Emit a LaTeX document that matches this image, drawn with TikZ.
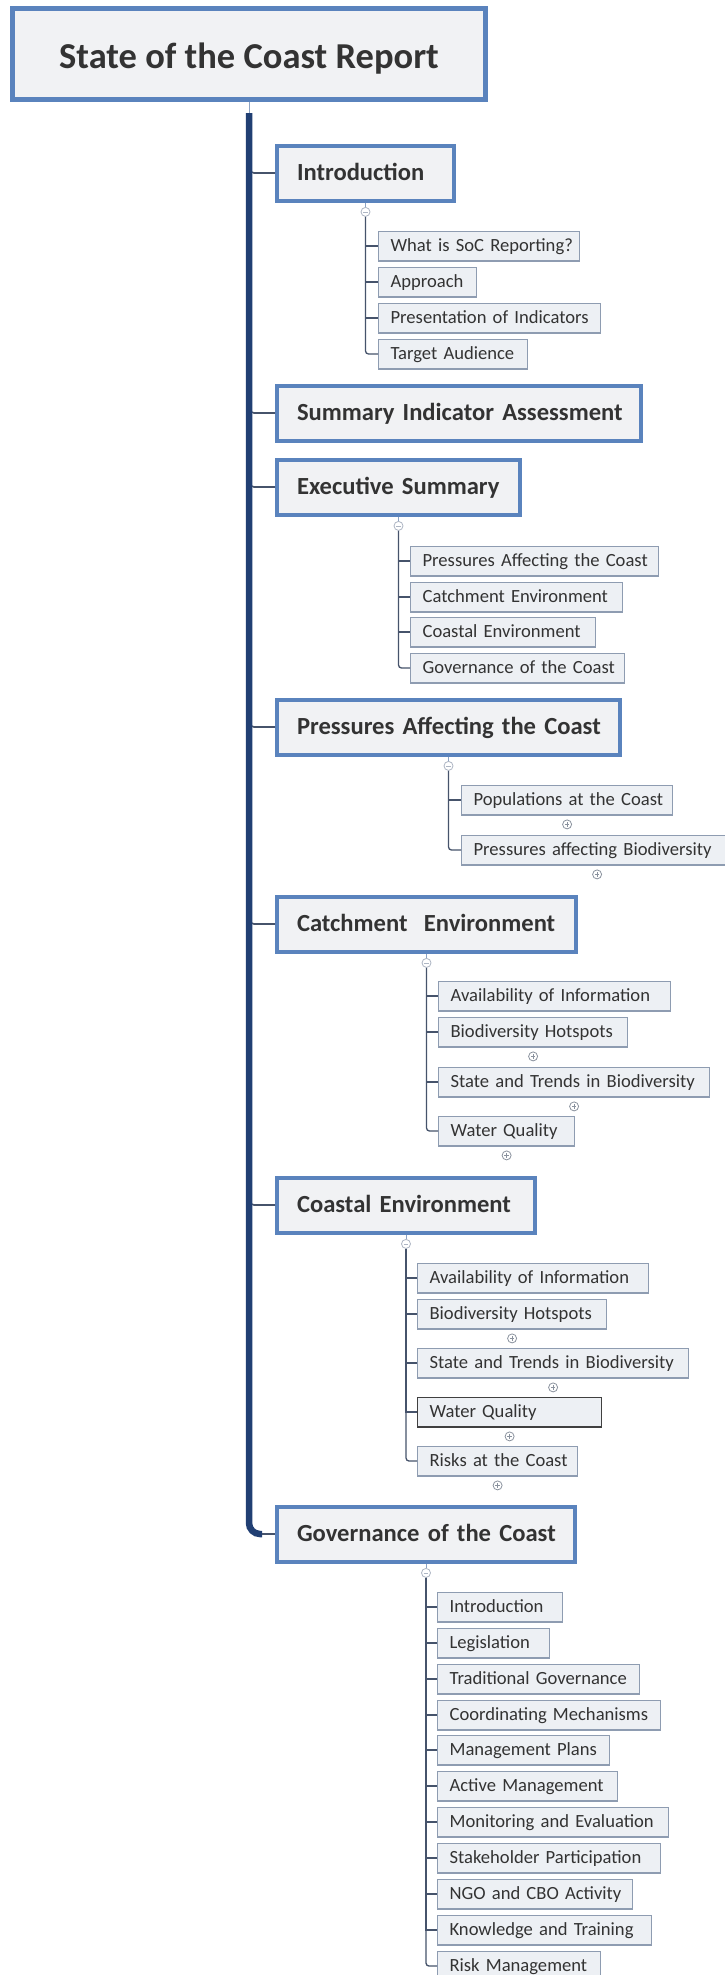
\documentclass[tikz,border=0pt]{standalone}
\usepackage{fontspec}
\setmainfont{Carlito}
\usetikzlibrary{positioning}

\definecolor{boxblue}{HTML}{5A83BD}
\definecolor{boxfill}{HTML}{F1F2F4}
\definecolor{leafline}{HTML}{8E9CB1}
\definecolor{leaffill}{HTML}{EDF0F4}
\definecolor{trunkblue}{HTML}{213F73}
\definecolor{twigline}{HTML}{46536B}
\definecolor{stemline}{HTML}{8DA3C4}
\definecolor{inkgray}{HTML}{333333}
\definecolor{knobgray}{HTML}{8A929E}
\definecolor{knoblight}{HTML}{AEB6C4}

\tikzset{
	title/.style={draw=boxblue, line width=5pt, fill=boxfill, text=inkgray,
		font=\fontsize{36.5}{42}\selectfont\bfseries, minimum width=473pt, minimum height=91pt,
		text height=29pt, text depth=0pt},
	topic/.style={draw=boxblue, line width=4pt, fill=boxfill, text=inkgray,
		font=\fontsize{24.6}{28}\selectfont\bfseries, anchor=west, inner xsep=20pt,
		minimum height=55pt, text width=#1, align=left, text height=15.5pt, text depth=0pt,
		execute at begin node={\hbox\bgroup}, execute at end node={\egroup}},
	leaf/.style={draw=leafline, line width=1.2pt, fill=leaffill, text=inkgray,
		font=\fontsize{18.6}{20}\selectfont, anchor=west, inner xsep=12pt,
		minimum height=29.8pt, text width=#1, align=left, text height=11.8pt, text depth=0pt,
		execute at begin node={\hbox\bgroup}, execute at end node={\egroup}},
	knob/.style={circle, draw=#1, fill=white, line width=0.8pt, minimum size=9pt, inner sep=0pt},
	minus/.style={knob=knoblight, path picture={\draw[knoblight, line width=0.8pt]
		([xshift=-2.3pt]path picture bounding box.center) -- ([xshift=2.3pt]path picture bounding box.center);}},
	plus/.style={knob=knobgray, path picture={\draw[knobgray, line width=0.8pt]
		([xshift=-2.3pt]path picture bounding box.center) -- ([xshift=2.3pt]path picture bounding box.center)
		([yshift=-2.3pt]path picture bounding box.center) -- ([yshift=2.3pt]path picture bounding box.center);}},
	stem/.style={draw=stemline, line width=1pt},
	trunk/.style={draw=trunkblue, line width=6.5pt, rounded corners=11pt},
	branch/.style={draw=twigline, line width=1.6pt, rounded corners=5pt},
	twig/.style={draw=twigline, line width=1.3pt}
}

\begin{document}
\begin{tikzpicture}[x=1pt, y=-1pt]
	\useasboundingbox[fill=white] (0,0) rectangle (724,1975);
	\node[title] (title) at (249,54) {State of the Coast Report};
	\coordinate (trunktop) at (249,113);
	\coordinate (trunkend) at (262,1534);

	\node[topic=137pt] (intro) at (275,173) {Introduction};
	\node[topic=324pt] (summary) at (275,413) {Summary Indicator Assessment};
	\node[topic=203pt] (exec) at (275,487) {Executive Summary};
	\node[topic=303pt] (press) at (275,727) {Pressures Affecting the Coast};
	\node[topic=259pt] (catch) at (275,924) {Catchment~ Environment};
	\node[topic=218pt] (coast) at (275,1205) {Coastal Environment};
	\node[topic=258pt] (gov) at (275,1534) {Governance of the Coast};

	\foreach \t in {intro,summary,exec,press,catch,coast}
		\draw[branch] (trunktop |- \t.north west) |- (\t);
	\draw[stem] (title) -- (trunktop);
	\draw[trunk] (trunktop) |- (trunkend);
	\draw[branch] (trunkend) -- (gov);

	% Introduction
	\node[minus, below=4.5pt of intro] (mintro) {};
	\node[leaf=177pt] (intro1) at (378,246) {What is SoC Reporting?};
	\node[leaf=74pt] (intro2) at (378,282) {Approach};
	\node[leaf=198pt] (intro3) at (378,318) {Presentation of Indicators};
	\node[leaf=125pt] (intro4) at (378,354) {Target Audience};
	\draw[stem] (intro) -- (mintro);
	\foreach \n in {intro1,intro2,intro3}
		\draw[twig] (mintro) |- (\n);
	\draw[twig, rounded corners=3pt] (mintro) |- (intro4);

	% Executive Summary
	\node[minus, below=4.5pt of exec] (mexec) {};
	\node[leaf=224pt] (exec1) at (410,561) {Pressures Affecting the Coast};
	\node[leaf=188pt] (exec2) at (410,597) {Catchment Environment};
	\node[leaf=161pt] (exec3) at (410,632) {Coastal Environment};
	\node[leaf=190pt] (exec4) at (410,668) {Governance of the Coast};
	\draw[stem] (exec) -- (mexec);
	\foreach \n in {exec1,exec2,exec3}
		\draw[twig] (mexec) |- (\n);
	\draw[twig, rounded corners=3pt] (mexec) |- (exec4);

	% Pressures
	\node[minus, below=4.5pt of press] (mpress) {};
	\node[leaf=187pt] (press1) at (461,800) {Populations at the Coast};
	\node[leaf=247pt] (press2) at (461,850) {Pressures affecting Biodiversity};
	\node[plus, below=4pt of press1] (ppress1) {};
	\node[plus, below=4pt of press2] (ppress2) {};
	\draw[stem] (press) -- (mpress);
	\draw[twig] (mpress) |- (press1);
	\draw[twig, rounded corners=3pt] (mpress) |- (press2);

	% Catchment
	\node[minus, below=4.5pt of catch] (mcatch) {};
	\node[leaf=208pt] (catch1) at (438,996) {Availability of Information};
	\node[leaf=165pt] (catch2) at (438,1032) {Biodiversity Hotspots};
	\node[leaf=247pt] (catch3) at (438,1082) {State and Trends in Biodiversity};
	\node[leaf=112pt] (catch4) at (438,1131) {Water Quality};
	\foreach \n in {catch2,catch3,catch4}
		\node[plus, below=4pt of \n] (p\n) {};
	\draw[stem] (catch) -- (mcatch);
	\foreach \n in {catch1,catch2,catch3}
		\draw[twig] (mcatch) |- (\n);
	\draw[twig, rounded corners=3pt] (mcatch) |- (catch4);

	% Coastal
	\node[minus, below=4.5pt of coast] (mcoast) {};
	\node[leaf=207pt] (coast1) at (417,1278) {Availability of Information};
	\node[leaf=165pt] (coast2) at (417,1314) {Biodiversity Hotspots};
	\node[leaf=247pt] (coast3) at (417,1363) {State and Trends in Biodiversity};
	\node[leaf=160pt, draw=black!75] (coast4) at (417,1412) {Water Quality};
	\node[leaf=136pt] (coast5) at (417,1461) {Risks at the Coast};
	\foreach \n in {coast2,coast3,coast4,coast5}
		\node[plus, below=4pt of \n] (p\n) {};
	\draw[stem] (coast) -- (mcoast);
	\foreach \n in {coast1,coast2,coast3,coast4}
		\draw[twig] (mcoast) |- (\n);
	\draw[twig, rounded corners=3pt] (mcoast) |- (coast5);

	% Governance
	\node[minus, below=4.5pt of gov] (mgov) {};
	\node[leaf=101pt] (gov1) at (437,1607) {Introduction};
	\node[leaf=88pt] (gov2) at (437,1643) {Legislation};
	\node[leaf=178pt] (gov3) at (437,1679) {Traditional Governance};
	\node[leaf=199pt] (gov4) at (437,1715) {Coordinating Mechanisms};
	\node[leaf=148pt] (gov5) at (437,1750) {Management Plans};
	\node[leaf=156pt] (gov6) at (437,1786) {Active Management};
	\node[leaf=207pt] (gov7) at (437,1822) {Monitoring and Evaluation};
	\node[leaf=199pt] (gov8) at (437,1858) {Stakeholder Participation};
	\node[leaf=171pt] (gov9) at (437,1894) {NGO and CBO Activity};
	\node[leaf=190pt] (gov10) at (437,1930) {Knowledge and Training};
	\node[leaf=139pt] (gov11) at (437,1966) {Risk Management};
	\draw[stem] (gov) -- (mgov);
	\foreach \n in {gov1,gov2,gov3,gov4,gov5,gov6,gov7,gov8,gov9,gov10}
		\draw[twig] (mgov) |- (\n);
	\draw[twig, rounded corners=3pt] (mgov) |- (gov11);
\end{tikzpicture}
\end{document}
